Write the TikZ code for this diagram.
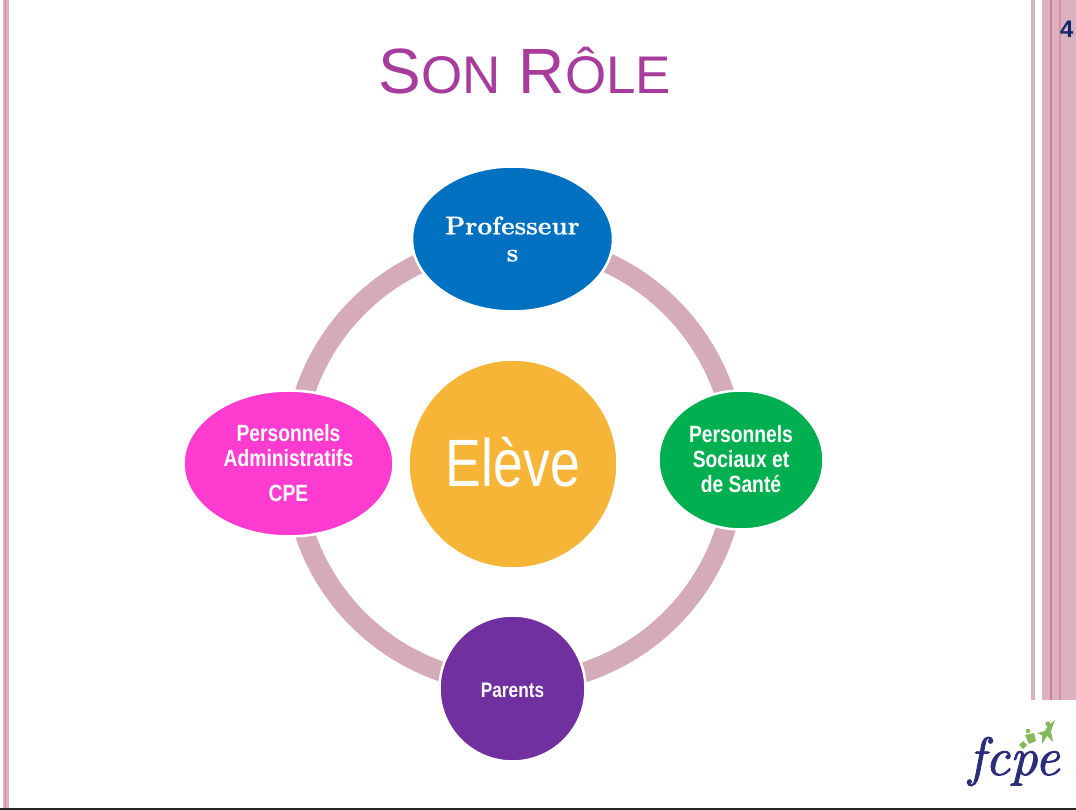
\documentclass[tikz,border=0pt]{standalone}
\usepackage{fontspec}
\usetikzlibrary{shapes.geometric}
\newfontfamily\narrowbf[FakeStretch=0.82]{Liberation Sans Bold}
\newfontfamily\narrowrg[FakeStretch=0.80]{Liberation Sans}
\newfontfamily\titlefont{Liberation Sans}
\newfontfamily\profbf[FakeBold=0.6]{lmroman10-bold.otf}
\newfontfamily\logofont[FakeBold=1.5]{lmroman10-italic.otf}
\definecolor{ringc}{HTML}{D5ABB8}
\definecolor{stripe}{HTML}{DDB2C0}
\definecolor{stripedk}{HTML}{CB7F9B}
\definecolor{titlec}{HTML}{A83C9C}
\definecolor{bluec}{HTML}{0070C0}
\definecolor{orangec}{HTML}{F7B538}
\definecolor{magc}{HTML}{FF3CCF}
\definecolor{greenc}{HTML}{00B050}
\definecolor{purplec}{HTML}{7030A0}
\definecolor{navy}{HTML}{10296B}
\definecolor{logoblue}{HTML}{2C2C7C}
\definecolor{logogreen}{HTML}{84B85A}
\pgfdeclarelayer{ringlayer}
\pgfsetlayers{ringlayer,main}
\tikzset{
  blob/.style={ellipse,draw=white,line width=2.5pt,inner sep=0pt,outer sep=0pt,text=white,align=center},
  ringarc/.style={draw=ringc,line width=20pt,line cap=butt},
  stripefill/.style={fill=stripe,draw=none},
  stripedark/.style={fill=stripedk,draw=none},
  lab/.style={font=\narrowbf\fontsize{23.5}{25}\selectfont}
}
\begin{document}
\begin{tikzpicture}[x=1pt,y=-1pt]
\useasboundingbox (0,0) rectangle (1076,810);
\begin{pgfonlayer}{ringlayer}
\fill[white] (0,0) rectangle (1076,810);
\end{pgfonlayer}
% left stripes
\fill[stripefill] (3,0) rectangle (9,808);
\fill[stripedk!70!stripe] (5,0) rectangle (6,808);
% right stripes
\fill[stripefill] (1031,0) rectangle (1035,700);
\fill[stripefill] (1042,0) rectangle (1076,700);
\fill[stripedark] (1050,0) rectangle (1052,700);
\fill[stripedk!60!stripe] (1059,0) rectangle (1061,700);
% bottom line
\fill[black!85] (0,808) rectangle (1076,810);
% title
\node[anchor=base,text=titlec,font=\titlefont\fontsize{64}{64}\selectfont,inner sep=0pt] (title) at (525,94)
  {S{\fontsize{53}{53}\selectfont ON} R{\fontsize{53}{53}\selectfont ÔLE}};
% page number
\node[anchor=base west,text=navy,font=\titlefont\bfseries\fontsize{24}{24}\selectfont,inner sep=0pt] (pagenum) at (1060,38) {4};
% nodes
\node[blob,fill=bluec,minimum width=201pt,minimum height=145pt,font=\profbf\fontsize{25.6}{27}\selectfont] (prof) at (512.5,239) {Professeur\\s};
\node[blob,fill=greenc,minimum width=165pt,minimum height=139pt,lab] (soc) at (741,460) {Personnels\\Sociaux et\\de Santé\rule[-2pt]{0pt}{2pt}};
\node[blob,fill=purplec,minimum width=146pt,minimum height=146pt,font=\narrowbf\fontsize{21}{23}\selectfont] (par) at (512.5,688.5) {\raisebox{0pt}[17.5pt][0pt]{Parents}};
\node[blob,fill=magc,minimum width=210pt,minimum height=146pt,lab] (adm) at (288.5,463.5) {Personnels\\Administratifs\\[10pt]CPE};
\node[blob,fill=orangec,minimum width=209pt,minimum height=209pt,font=\narrowrg\fontsize{67}{67}\selectfont] (eleve) at (513,464) {\raisebox{0pt}[50pt][6pt]{Elève}};
% ring connectors: each end sits on the ring's own circle, just inside the node centre
\begin{pgfonlayer}{ringlayer}
\draw[ringarc] ([yshift=-3.5pt]prof.center) to[bend left=45] ([xshift=-5pt,yshift=-3pt]soc.center);
\draw[ringarc] ([xshift=-5pt,yshift=-3pt]soc.center) to[bend left=45] ([yshift=5pt]par.center);
\draw[ringarc] ([yshift=5pt]par.center) to[bend left=45] ([xshift=5pt]adm.center);
\draw[ringarc] ([xshift=5pt]adm.center) to[bend left=45] ([yshift=-3.5pt]prof.center);
\end{pgfonlayer}
% logo
\node[anchor=base,text=logoblue,inner sep=0pt,font=\logofont\fontsize{54}{54}\selectfont] (logo) at (1014,775) {fcpe};
\fill[logogreen] (1037,733) -- (1045,731) -- (1047,727) -- (1055,720) -- (1051,731) -- (1053,742) -- (1047,736) -- (1042,744) -- (1042,735) -- cycle;
\fill[logogreen] (1048,724) circle (2.5);
\fill[logogreen] (1025,735) -- (1034,733) -- (1036,741) -- (1029,744) -- cycle;
\fill[logogreen] (1028,731) circle (2.2);
\fill[logogreen] (1019,745) -- (1023,741) -- (1027,745) -- (1023,749) -- cycle;
\end{tikzpicture}
\end{document}
